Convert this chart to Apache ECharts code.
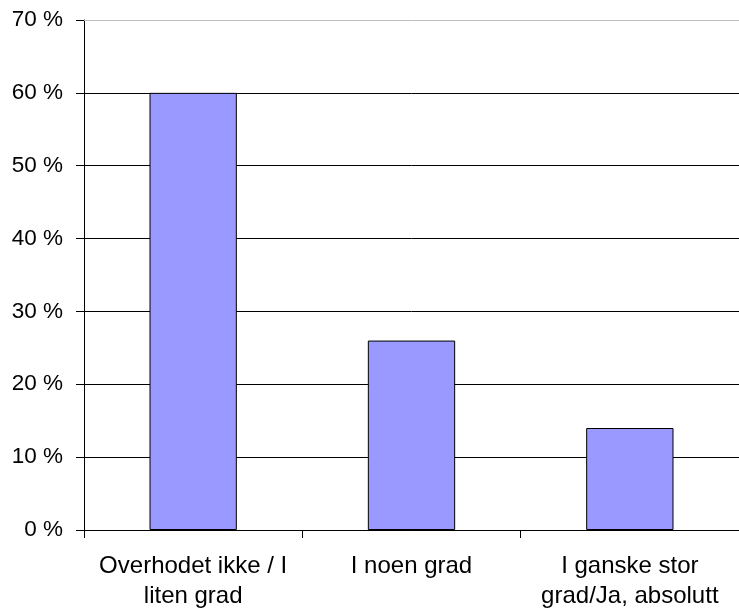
<!DOCTYPE html>
<html>
<head>
<meta charset="utf-8">
<script src="https://cdn.jsdelivr.net/npm/echarts@6/dist/echarts.min.js"></script>
<style>
  html, body { margin: 0; padding: 0; background: #fff; }
  #chart { width: 739px; height: 611px; }
</style>
</head>
<body>
<div id="chart"></div>
<script>
// Answer categories and share of respondents (%)
var categories = ['Overhodet ikke / I\nliten grad', 'I noen grad', 'I ganske stor\ngrad/Ja, absolutt'];
var shares = [60, 26, 14];
var yTicks = [0, 10, 20, 30, 40, 50, 60, 70];

var FONT = '"Liberation Sans", Arial, sans-serif';
var chart = echarts.init(document.getElementById('chart'));

chart.setOption({
  animation: false,
  backgroundColor: '#ffffff',
  grid: { left: 84, top: 20, width: 660, height: 512, containLabel: false },
  xAxis: [{
    type: 'category',
    data: categories,
    position: 'bottom',
    axisLine: { lineStyle: { color: '#000', width: 1 } },
    axisTick: { show: true, alignWithLabel: false, length: 8, lineStyle: { color: '#000' } },
    axisLabel: {
      color: '#000', fontFamily: FONT, fontSize: 24, lineHeight: 30,
      margin: 21, interval: 0, align: 'center'
    },
    splitLine: { show: false }
  }, {
    // light top border of the plot at 70 %
    type: 'category',
    data: categories,
    position: 'top',
    axisLine: { lineStyle: { color: '#c0c0c0', width: 1 } },
    axisTick: { show: false },
    axisLabel: { show: false }
  }],
  yAxis: {
    type: 'value',
    min: yTicks[0],
    max: yTicks[yTicks.length - 1],
    interval: 10,
    axisLine: { show: true, lineStyle: { color: '#000', width: 1 } },
    axisTick: { show: true, length: 8, inside: false, lineStyle: { color: '#000' } },
    axisLabel: {
      color: '#000', fontFamily: FONT, fontSize: 22.5, margin: 21,
      padding: [6, 0, 0, 0],
      formatter: function (v) { return v + ' %'; }
    },
    splitLine: { show: true, showMaxLine: false, lineStyle: { color: '#000', width: 1 } }
  },
  series: [{
    type: 'bar',
    xAxisIndex: 0,
    data: shares,
    barWidth: '40%',
    itemStyle: { color: '#9999ff', borderColor: '#000', borderWidth: 1 }
  }]
});
</script>
</body>
</html>
